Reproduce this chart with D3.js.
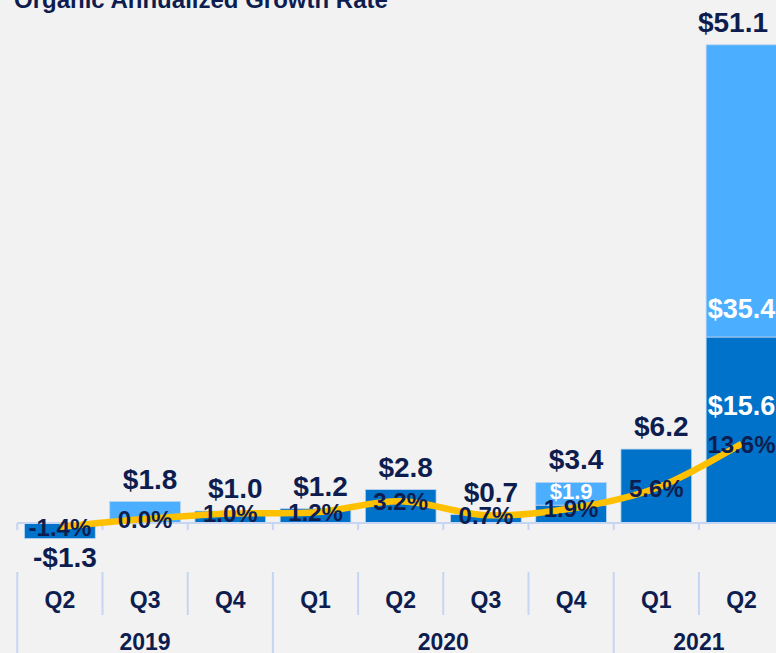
<!DOCTYPE html>
<html>
<head>
<meta charset="utf-8">
<script src="https://cdn.jsdelivr.net/npm/d3@7"></script>
<style>
  html, body { margin: 0; padding: 0; background: #f2f2f2; }
  svg { display: block; font-family: "Liberation Sans", Arial, sans-serif; font-weight: bold; }
</style>
</head>
<body>
<svg id="chart" width="776" height="653"></svg>
<script>
// quarters along the x axis, grouped by year
const quarters = ['Q2', 'Q3', 'Q4', 'Q1', 'Q2', 'Q3', 'Q4', 'Q1', 'Q2'];
const years = ['2019', '2020', '2021'];
const quartersPerYear = [3, 4, 2];

// $ billions, dark segment and light segment of each bar
const darkValues = [-1.3, 0, 1.0, 1.2, 2.8, 0.7, 1.5, 6.2, 15.6];
const lightValues = [0, 1.8, 0, 0, 0, 0, 1.9, 0, 35.4];
const totals = [-1.3, 1.8, 1.0, 1.2, 2.8, 0.7, 3.4, 6.2, 51.1];

// organic annualized growth rate, %
const growthRates = [-1.4, 0.0, 1.0, 1.2, 3.2, 0.7, 1.9, 5.6, 13.6];

const colors = {
  dark: '#0072c9',
  light: '#4caeff',
  line: '#ffc000',
  text: '#0e1d4f',
  grid: '#c6d5f3'
};

const width = 776;
const svg = d3.select('#chart');
const baseY = 523;

const x = d3.scaleBand()
  .domain(d3.range(quarters.length))
  .range([17.3, 17.3 + 85.2 * quarters.length])
  .paddingInner(0.17)
  .paddingOuter(0.085);

// the tall last bar is drawn shortened above its dark part
const y = d3.scaleLinear()
  .domain([0, 15.6, 51.1])
  .range([baseY, 337, 44]);

const yPct = d3.scaleLinear()
  .domain([0, 10])
  .range([baseY - 4, baseY - 4 - 55.3]);

const fmt = d3.formatLocale({decimal: '.', thousands: ',', grouping: [3], currency: ['$', ''], minus: '-'}).format('.1f');
const money = (v) => (v < 0 ? '-' : '') + '$' + fmt(Math.abs(v));
const pct = (v) => fmt(v) + '%';

const step = x.step();
const left = x.range()[0];
const cx = (i) => x(i) + x.bandwidth() / 2;

// title, cut off by the top edge
svg.append('text')
  .attr('x', 14)
  .attr('y', 8)
  .attr('font-size', 24)
  .attr('fill', colors.text)
  .text('Organic Annualized Growth Rate');

// bars
const bars = quarters.map((q, i) => ({i, dark: darkValues[i], light: lightValues[i], total: totals[i]}));

svg.append('g')
  .selectAll('rect')
  .data(bars.filter((d) => d.dark !== 0))
  .join('rect')
  .attr('x', (d) => x(d.i))
  .attr('width', x.bandwidth())
  .attr('y', (d) => Math.min(y(0), y(d.dark)))
  .attr('height', (d) => Math.abs(y(d.dark) - y(0)))
  .attr('fill', colors.dark)
  .attr('stroke', '#b9d3f0')
  .attr('stroke-width', 0.8);

svg.append('g')
  .selectAll('rect')
  .data(bars.filter((d) => d.light !== 0))
  .join('rect')
  .attr('x', (d) => x(d.i))
  .attr('width', x.bandwidth())
  .attr('y', (d) => y(d.dark + d.light))
  .attr('height', (d) => y(d.dark) - y(d.dark + d.light))
  .attr('fill', colors.light)
  .attr('stroke', '#b9d3f0')
  .attr('stroke-width', 0.8);

// axis line and ticks
const bounds = d3.range(quarters.length + 1).map((i) => left + i * step);
svg.append('line')
  .attr('x1', left).attr('x2', width)
  .attr('y1', baseY).attr('y2', baseY)
  .attr('stroke', colors.grid).attr('stroke-width', 2);

svg.append('g')
  .selectAll('line')
  .data(bounds)
  .join('line')
  .attr('x1', (b) => b).attr('x2', (b) => b)
  .attr('y1', baseY).attr('y2', baseY + 7)
  .attr('stroke', colors.grid).attr('stroke-width', 2);

// category separators, longer at year boundaries
const yearStarts = [0];
quartersPerYear.forEach((n, k) => yearStarts.push(yearStarts[k] + n));
svg.append('g')
  .selectAll('line')
  .data(bounds.map((b, i) => ({b, year: yearStarts.includes(i)})))
  .join('line')
  .attr('x1', (d) => d.b).attr('x2', (d) => d.b)
  .attr('y1', 572).attr('y2', (d) => (d.year ? 653 : 615))
  .attr('stroke', colors.grid).attr('stroke-width', 2);

svg.append('g')
  .selectAll('text')
  .data(quarters)
  .join('text')
  .attr('x', (q, i) => cx(i))
  .attr('y', 608)
  .attr('text-anchor', 'middle')
  .attr('font-size', 23)
  .attr('fill', colors.text)
  .text((q) => q);

svg.append('g')
  .selectAll('text')
  .data(years)
  .join('text')
  .attr('x', (yr, k) => left + step * (yearStarts[k] + quartersPerYear[k] / 2))
  .attr('y', 650)
  .attr('text-anchor', 'middle')
  .attr('font-size', 23)
  .attr('fill', colors.text)
  .text((yr) => yr);

// labels inside the split bars
const inner = [];
bars.forEach((d) => {
  if (d.light !== 0 && d.dark !== 0) {
    const h = y(d.dark) - y(d.dark + d.light);
    inner.push({i: d.i, v: d.light, yy: y(d.dark) - Math.min(19, h * 0.25), size: h < 30 ? 22 : 27});
    if (y(0) - y(d.dark) > 100) {
      inner.push({i: d.i, v: d.dark, yy: y(d.dark) + 78, size: 27});
    }
  }
});
svg.append('g')
  .selectAll('text')
  .data(inner)
  .join('text')
  .attr('x', (d) => cx(d.i))
  .attr('y', (d) => d.yy)
  .attr('text-anchor', 'middle')
  .attr('font-size', (d) => d.size)
  .attr('fill', '#ffffff')
  .text((d) => money(d.v));

// growth rate line
const line = d3.line()
  .x((g, i) => cx(i))
  .y((g) => yPct(g))
  .curve(d3.curveCatmullRom);

svg.append('path')
  .datum(growthRates)
  .attr('d', line)
  .attr('fill', 'none')
  .attr('stroke', colors.line)
  .attr('stroke-width', 6.5)
  .attr('stroke-linecap', 'butt');

svg.append('g')
  .selectAll('text')
  .data(growthRates)
  .join('text')
  .attr('x', (g, i) => cx(i))
  .attr('y', (g) => yPct(g) + 9)
  .attr('text-anchor', 'middle')
  .attr('font-size', 24)
  .attr('fill', colors.text)
  .text(pct);

// bar totals, kept inside the right edge
svg.append('g')
  .selectAll('text')
  .data(bars)
  .join('text')
  .attr('y', (d) => (d.total < 0 ? y(d.total) + 28 : y(d.dark + d.light) - 13))
  .attr('text-anchor', 'middle')
  .attr('font-size', 28)
  .attr('fill', colors.text)
  .text((d) => money(d.total))
  .attr('x', function (d) {
    const w = this.getComputedTextLength();
    return Math.min(cx(d.i) + 5, width - 8 - w / 2);
  });
</script>
</body>
</html>
